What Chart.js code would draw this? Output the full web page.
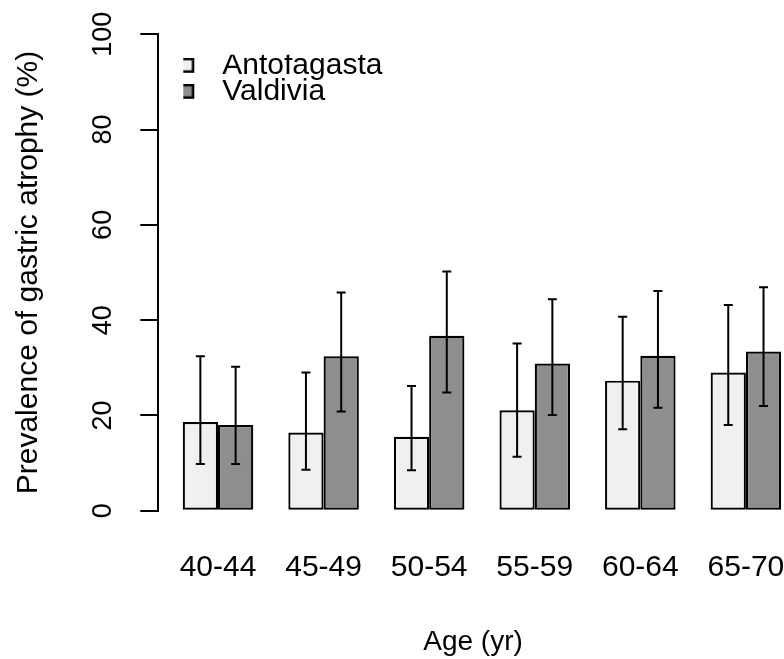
<!DOCTYPE html>
<html>
<head>
<meta charset="utf-8">
<script src="https://cdn.jsdelivr.net/npm/chart.js@4.4.1/dist/chart.umd.min.js"></script>
<style>
  html, body { margin: 0; padding: 0; background: #fff; overflow: hidden; }
  #wrap { position: relative; width: 790px; height: 659px; }
</style>
</head>
<body>
<div id="wrap"><canvas id="c"></canvas></div>
<script>
const ageGroups = ['40-44', '45-49', '50-54', '55-59', '60-64', '65-70'];
const antofagasta      = [18.6, 16.4, 15.5, 21.1, 27.3, 29.0];
const antofagastaLower = [ 9.8,  8.6,  8.5, 11.3, 17.1, 18.0];
const antofagastaUpper = [32.4, 29.0, 26.2, 35.1, 40.7, 43.2];
const valdivia         = [18.0, 32.4, 36.7, 30.9, 32.5, 33.4];
const valdiviaLower    = [ 9.8, 20.8, 24.8, 20.1, 21.6, 22.0];
const valdiviaUpper    = [30.2, 45.8, 50.2, 44.4, 46.1, 46.9];
const yTicks = [0, 20, 40, 60, 80, 100];

const seriesNames = ['Antofagasta', 'Valdivia'];
const fills = ['#f0f0f0', '#8e8e8e'];
const lowers = [antofagastaLower, valdiviaLower];
const uppers = [antofagastaUpper, valdiviaUpper];

Chart.defaults.font.family = "'Liberation Sans', Arial, sans-serif";
Chart.defaults.color = '#000';

function legendIcon(fill) {
  const c = document.createElement('canvas');
  c.width = 28; c.height = 16;
  const g = c.getContext('2d');
  g.fillStyle = fill;
  g.fillRect(1.25, 1.25, 12.5, 12.5);
  g.strokeStyle = '#000';
  g.lineWidth = 2.5;
  g.strokeRect(1.25, 1.25, 12.5, 12.5);
  return c;
}
const icons = fills.map(legendIcon);

const errorBars = {
  id: 'errorBars',
  afterDatasetsDraw(chart) {
    const ctx = chart.ctx;
    const ys = chart.scales.y;
    ctx.save();
    ctx.strokeStyle = '#000';
    ctx.lineWidth = 2;
    chart.data.datasets.forEach((ds, d) => {
      const meta = chart.getDatasetMeta(d);
      meta.data.forEach((bar, i) => {
        const x = bar.x;
        const y1 = ys.getPixelForValue(lowers[d][i]);
        const y2 = ys.getPixelForValue(uppers[d][i]);
        const cap = 4.5;
        ctx.beginPath();
        ctx.moveTo(x, y1); ctx.lineTo(x, y2);
        ctx.moveTo(x - cap, y1); ctx.lineTo(x + cap, y1);
        ctx.moveTo(x - cap, y2); ctx.lineTo(x + cap, y2);
        ctx.stroke();
      });
    });
    ctx.restore();
  }
};

const legendPlacer = {
  id: 'legendPlacer',
  afterLayout(chart) {
    const lg = chart.legend;
    if (!lg) return;
    const ca = chart.chartArea;
    lg.left = ca.left + 25;
    lg.top = ca.top + 20.5;
    lg.right = ca.right;
    lg.bottom = ca.bottom;
  }
};

new Chart(document.getElementById('c'), {
  type: 'bar',
  data: {
    datasets: [
      {
        label: seriesNames[0],
        data: antofagasta.map((v, i) => ({ x: i, y: v })),
        backgroundColor: fills[0],
        borderColor: '#000',
        borderWidth: 2.2,
        borderSkipped: false
      },
      {
        label: seriesNames[1],
        data: valdivia.map((v, i) => ({ x: i, y: v })),
        backgroundColor: fills[1],
        borderColor: '#000',
        borderWidth: 2.2,
        borderSkipped: false
      }
    ]
  },
  options: {
    responsive: true,
    maintainAspectRatio: false,
    animation: false,
    categoryPercentage: 0.668,
    barPercentage: 1.0,
    layout: { padding: { top: 34.3, left: 0, right: 2.3, bottom: 0 } },
    plugins: {
      tooltip: { enabled: false },
      legend: {
        display: true,
        position: 'chartArea',
        align: 'start',
        labels: {
          usePointStyle: true,
          boxWidth: 28,
          boxHeight: 14,
          padding: -4,
          color: '#000',
          font: { size: 30 },
          generateLabels(chart) {
            const items = Chart.defaults.plugins.legend.labels.generateLabels(chart);
            items.forEach((it, i) => { it.pointStyle = icons[i]; });
            return items;
          }
        }
      }
    },
    scales: {
      x: {
        type: 'linear',
        offset: false,
        min: -0.5654,
        max: 5.396,
        afterBuildTicks(s) { s.ticks = ageGroups.map((_, i) => ({ value: i })); },
        afterFit(s) { s.height = 148.3; s.paddingLeft = 0; s.paddingRight = 0; },
        grid: { display: false, drawTicks: true, tickLength: 39 },
        border: { display: false },
        ticks: {
          autoSkip: false,
          maxRotation: 0,
          padding: 0,
          color: '#000',
          font: { size: 30 },
          callback: (v) => ageGroups[v]
        },
        title: {
          display: true,
          text: 'Age (yr)',
          color: '#000',
          font: { size: 28 },
          padding: { top: 0, bottom: 0 }
        }
      },
      y: {
        min: 0,
        max: 100,
        afterBuildTicks(s) { s.ticks = yTicks.map(v => ({ value: v })); },
        afterFit(s) { s.width = 158.3; },
        grid: {
          drawOnChartArea: false,
          drawTicks: true,
          tickLength: 18,
          color: '#000',
          lineWidth: 2
        },
        border: { display: true, color: '#000', width: 2 },
        ticks: {
          minRotation: 90,
          maxRotation: 90,
          crossAlign: 'center',
          padding: 14,
          color: '#000',
          font: { size: 27 }
        },
        title: {
          display: true,
          text: 'Prevalence of gastric atrophy (%)',
          color: '#000',
          font: { size: 30 },
          padding: { top: 11, bottom: 0 }
        }
      }
    }
  },
  plugins: [errorBars, legendPlacer]
});
</script>
</body>
</html>
